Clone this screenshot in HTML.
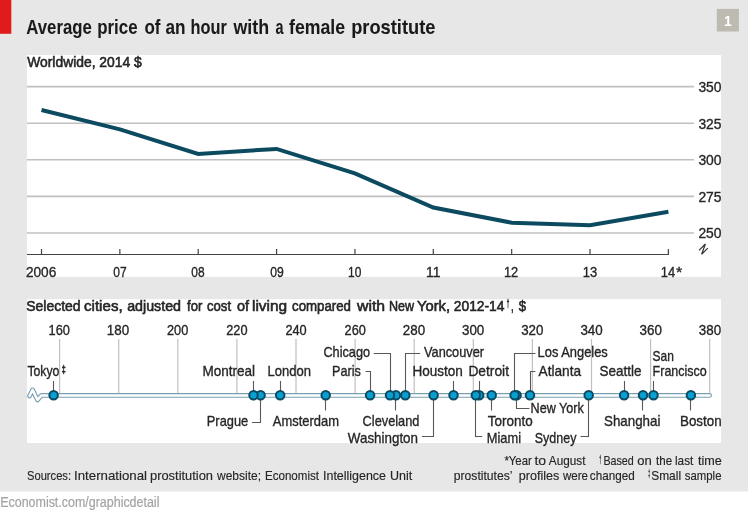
<!DOCTYPE html>
<html><head><meta charset="utf-8"><style>
html,body{margin:0;padding:0;background:#fff;}
body{width:750px;height:515px;overflow:hidden;}
svg{display:block;font-family:"Liberation Sans", sans-serif;will-change:transform;}
</style></head><body>
<svg width="750" height="515" viewBox="0 0 750 515">
<rect x="0" y="0" width="748" height="491.5" fill="#e7e7e7"/>
<rect x="0" y="0" width="11.3" height="33.8" fill="#e11b1b"/>
<rect x="716.8" y="8.9" width="22.1" height="22.6" fill="#bdbab1"/>
<text x="727.9" y="25.5" font-size="14" text-anchor="middle" font-weight="bold" fill="#fff">1</text>
<rect x="27" y="55" width="694" height="221.8" fill="#fff"/>
<rect x="27" y="299.2" width="694" height="143.8" fill="#fff"/>
<line x1="27" y1="86.60" x2="694" y2="86.60" stroke="#c0c0c0" stroke-width="1.6"/>
<line x1="27" y1="123.20" x2="694" y2="123.20" stroke="#c0c0c0" stroke-width="1.6"/>
<line x1="27" y1="159.80" x2="694" y2="159.80" stroke="#c0c0c0" stroke-width="1.6"/>
<line x1="27" y1="196.40" x2="694" y2="196.40" stroke="#c0c0c0" stroke-width="1.6"/>
<line x1="27" y1="233.00" x2="694" y2="233.00" stroke="#c0c0c0" stroke-width="1.6"/>
<line x1="27" y1="254.5" x2="668.9" y2="254.5" stroke="#444444" stroke-width="1"/>
<line x1="41.50" y1="249" x2="41.50" y2="254.5" stroke="#444444" stroke-width="1.2"/>
<line x1="119.86" y1="249" x2="119.86" y2="254.5" stroke="#444444" stroke-width="1.2"/>
<line x1="198.22" y1="249" x2="198.22" y2="254.5" stroke="#444444" stroke-width="1.2"/>
<line x1="276.58" y1="249" x2="276.58" y2="254.5" stroke="#444444" stroke-width="1.2"/>
<line x1="354.94" y1="249" x2="354.94" y2="254.5" stroke="#444444" stroke-width="1.2"/>
<line x1="433.30" y1="249" x2="433.30" y2="254.5" stroke="#444444" stroke-width="1.2"/>
<line x1="511.66" y1="249" x2="511.66" y2="254.5" stroke="#444444" stroke-width="1.2"/>
<line x1="590.02" y1="249" x2="590.02" y2="254.5" stroke="#444444" stroke-width="1.2"/>
<line x1="668.38" y1="249" x2="668.38" y2="254.5" stroke="#444444" stroke-width="1.2"/>
<polyline points="41.5,110.0 119.9,129.4 198.2,154.0 276.6,148.9 354.9,173.3 433.3,207.5 511.7,222.7 590.0,225.2 668.4,211.7" fill="none" stroke="#0c4a60" stroke-width="4.0" stroke-linejoin="miter"/>
<path d="M699,250.4 L705.4,244 L701.6,254.2 L707.8,248.1" fill="none" stroke="#333" stroke-width="1.2"/>
<line x1="59.60" y1="339" x2="59.60" y2="393.5" stroke="#c0c0c0" stroke-width="1.2"/>
<line x1="118.70" y1="339" x2="118.70" y2="393.5" stroke="#c0c0c0" stroke-width="1.2"/>
<line x1="177.80" y1="339" x2="177.80" y2="393.5" stroke="#c0c0c0" stroke-width="1.2"/>
<line x1="236.90" y1="339" x2="236.90" y2="393.5" stroke="#c0c0c0" stroke-width="1.2"/>
<line x1="296.00" y1="339" x2="296.00" y2="393.5" stroke="#c0c0c0" stroke-width="1.2"/>
<line x1="355.10" y1="339" x2="355.10" y2="393.5" stroke="#c0c0c0" stroke-width="1.2"/>
<line x1="414.20" y1="339" x2="414.20" y2="393.5" stroke="#c0c0c0" stroke-width="1.2"/>
<line x1="473.30" y1="339" x2="473.30" y2="393.5" stroke="#c0c0c0" stroke-width="1.2"/>
<line x1="532.40" y1="339" x2="532.40" y2="393.5" stroke="#c0c0c0" stroke-width="1.2"/>
<line x1="591.50" y1="339" x2="591.50" y2="393.5" stroke="#c0c0c0" stroke-width="1.2"/>
<line x1="650.60" y1="339" x2="650.60" y2="393.5" stroke="#c0c0c0" stroke-width="1.2"/>
<line x1="709.70" y1="339" x2="709.70" y2="393.5" stroke="#c0c0c0" stroke-width="1.2"/>
<path d="M29.5,396.0 L32.6,389.9 L37.5,400.0 L41.4,395.4 L709.6,395.4" fill="none" stroke="#7a9fb2" stroke-width="4.8" stroke-linejoin="round" stroke-linecap="round"/>
<path d="M29.5,396.0 L32.6,389.9 L37.5,400.0 L41.4,395.4 L709.6,395.4" fill="none" stroke="#fff" stroke-width="2.5" stroke-linejoin="round" stroke-linecap="round"/>
<path d="M53.5,381 V395.3" fill="none" stroke="#595959" stroke-width="1.1"/>
<path d="M253.5,381 V395.3" fill="none" stroke="#595959" stroke-width="1.1"/>
<path d="M280.5,381 V395.3" fill="none" stroke="#595959" stroke-width="1.1"/>
<path d="M453.5,381 V395.3" fill="none" stroke="#595959" stroke-width="1.1"/>
<path d="M479.5,381 V395.3" fill="none" stroke="#595959" stroke-width="1.1"/>
<path d="M624.5,381 V395.3" fill="none" stroke="#595959" stroke-width="1.1"/>
<path d="M653.5,381 V395.3" fill="none" stroke="#595959" stroke-width="1.1"/>
<path d="M365.5,371.5 H370.5 V395.3" fill="none" stroke="#595959" stroke-width="1.1"/>
<path d="M373.7,353.5 H390.5 V395.3" fill="none" stroke="#595959" stroke-width="1.1"/>
<path d="M420.2,353.5 H405.5 V395.3" fill="none" stroke="#595959" stroke-width="1.1"/>
<path d="M535.4,353.5 H514.5 V395.3" fill="none" stroke="#595959" stroke-width="1.1"/>
<path d="M535.4,371.5 H530.5 V395.3" fill="none" stroke="#595959" stroke-width="1.1"/>
<path d="M325.5,395.3 V410.5" fill="none" stroke="#595959" stroke-width="1.1"/>
<path d="M395.5,395.3 V410.5" fill="none" stroke="#595959" stroke-width="1.1"/>
<path d="M491.5,395.3 V410.5" fill="none" stroke="#595959" stroke-width="1.1"/>
<path d="M642.5,395.3 V410.5" fill="none" stroke="#595959" stroke-width="1.1"/>
<path d="M690.5,395.3 V410.5" fill="none" stroke="#595959" stroke-width="1.1"/>
<path d="M260.5,395.3 V422.5 H252" fill="none" stroke="#595959" stroke-width="1.1"/>
<path d="M433.5,395.3 V436.5 H421.9" fill="none" stroke="#595959" stroke-width="1.1"/>
<path d="M475.5,395.3 V436.5 H482.2" fill="none" stroke="#595959" stroke-width="1.1"/>
<path d="M516.5,395.3 V408.5 H529.4" fill="none" stroke="#595959" stroke-width="1.1"/>
<path d="M588.5,395.3 V436.5 H580.5" fill="none" stroke="#595959" stroke-width="1.1"/>
<circle cx="690.9" cy="395.3" r="4.25" fill="#089fd1" stroke="#0b4a62" stroke-width="2.0"/>
<circle cx="653.5" cy="395.3" r="4.25" fill="#089fd1" stroke="#0b4a62" stroke-width="2.0"/>
<circle cx="643.0" cy="395.3" r="4.25" fill="#089fd1" stroke="#0b4a62" stroke-width="2.0"/>
<circle cx="624.1" cy="395.3" r="4.25" fill="#089fd1" stroke="#0b4a62" stroke-width="2.0"/>
<circle cx="588.7" cy="395.3" r="4.25" fill="#089fd1" stroke="#0b4a62" stroke-width="2.0"/>
<circle cx="530.0" cy="395.3" r="4.25" fill="#089fd1" stroke="#0b4a62" stroke-width="2.0"/>
<circle cx="516.6" cy="395.3" r="4.25" fill="#089fd1" stroke="#0b4a62" stroke-width="2.0"/>
<circle cx="514.6" cy="395.3" r="4.25" fill="#089fd1" stroke="#0b4a62" stroke-width="2.0"/>
<circle cx="491.7" cy="395.3" r="4.25" fill="#089fd1" stroke="#0b4a62" stroke-width="2.0"/>
<circle cx="479.2" cy="395.3" r="4.25" fill="#089fd1" stroke="#0b4a62" stroke-width="2.0"/>
<circle cx="475.8" cy="395.3" r="4.25" fill="#089fd1" stroke="#0b4a62" stroke-width="2.0"/>
<circle cx="453.5" cy="395.3" r="4.25" fill="#089fd1" stroke="#0b4a62" stroke-width="2.0"/>
<circle cx="433.6" cy="395.3" r="4.25" fill="#089fd1" stroke="#0b4a62" stroke-width="2.0"/>
<circle cx="405.3" cy="395.3" r="4.25" fill="#089fd1" stroke="#0b4a62" stroke-width="2.0"/>
<circle cx="395.9" cy="395.3" r="4.25" fill="#089fd1" stroke="#0b4a62" stroke-width="2.0"/>
<circle cx="390.0" cy="395.3" r="4.25" fill="#089fd1" stroke="#0b4a62" stroke-width="2.0"/>
<circle cx="370.1" cy="395.3" r="4.25" fill="#089fd1" stroke="#0b4a62" stroke-width="2.0"/>
<circle cx="325.7" cy="395.3" r="4.25" fill="#089fd1" stroke="#0b4a62" stroke-width="2.0"/>
<circle cx="280.2" cy="395.3" r="4.25" fill="#089fd1" stroke="#0b4a62" stroke-width="2.0"/>
<circle cx="260.6" cy="395.3" r="4.25" fill="#089fd1" stroke="#0b4a62" stroke-width="2.0"/>
<circle cx="253.5" cy="395.3" r="4.25" fill="#089fd1" stroke="#0b4a62" stroke-width="2.0"/>
<circle cx="53.6" cy="395.3" r="4.25" fill="#089fd1" stroke="#0b4a62" stroke-width="2.0"/>
<text x="26.30" y="33.60" font-size="19.3" textLength="65.53" lengthAdjust="spacingAndGlyphs" font-weight="bold" fill="#1a1a1a" stroke="#1a1a1a" stroke-width="0.05">Average</text>
<text x="97.20" y="33.60" font-size="19.3" textLength="40.35" lengthAdjust="spacingAndGlyphs" font-weight="bold" fill="#1a1a1a" stroke="#1a1a1a" stroke-width="0.05">price</text>
<text x="144.50" y="33.60" font-size="19.3" textLength="16.00" lengthAdjust="spacingAndGlyphs" font-weight="bold" fill="#1a1a1a" stroke="#1a1a1a" stroke-width="0.05">of</text>
<text x="165.50" y="33.60" font-size="19.3" textLength="20.06" lengthAdjust="spacingAndGlyphs" font-weight="bold" fill="#1a1a1a" stroke="#1a1a1a" stroke-width="0.05">an</text>
<text x="190.50" y="33.60" font-size="19.3" textLength="36.28" lengthAdjust="spacingAndGlyphs" font-weight="bold" fill="#1a1a1a" stroke="#1a1a1a" stroke-width="0.05">hour</text>
<text x="233.50" y="33.60" font-size="19.3" textLength="35.64" lengthAdjust="spacingAndGlyphs" font-weight="bold" fill="#1a1a1a" stroke="#1a1a1a" stroke-width="0.05">with</text>
<text x="275.50" y="33.60" font-size="19.3" textLength="8.00" lengthAdjust="spacingAndGlyphs" font-weight="bold" fill="#1a1a1a" stroke="#1a1a1a" stroke-width="0.05">a</text>
<text x="289.00" y="33.60" font-size="19.3" textLength="56.00" lengthAdjust="spacingAndGlyphs" font-weight="bold" fill="#1a1a1a" stroke="#1a1a1a" stroke-width="0.05">female</text>
<text x="351.20" y="33.60" font-size="19.3" textLength="84.24" lengthAdjust="spacingAndGlyphs" font-weight="bold" fill="#1a1a1a" stroke="#1a1a1a" stroke-width="0.05">prostitute</text>
<text x="27.20" y="67.20" font-size="15.5" textLength="114.61" lengthAdjust="spacingAndGlyphs" fill="#262626" stroke="#262626" stroke-width="0.6">Worldwide, 2014 $</text>
<text x="26.20" y="311.00" font-size="15.2" textLength="54.43" lengthAdjust="spacingAndGlyphs" fill="#262626" stroke="#262626" stroke-width="0.6">Selected</text>
<text x="84.00" y="311.00" font-size="15.2" textLength="38.65" lengthAdjust="spacingAndGlyphs" fill="#262626" stroke="#262626" stroke-width="0.6">cities,</text>
<text x="127.20" y="311.00" font-size="15.2" textLength="53.81" lengthAdjust="spacingAndGlyphs" fill="#262626" stroke="#262626" stroke-width="0.6">adjusted</text>
<text x="187.00" y="311.00" font-size="15.2" textLength="15.24" lengthAdjust="spacingAndGlyphs" fill="#262626" stroke="#262626" stroke-width="0.6">for</text>
<text x="207.00" y="311.00" font-size="15.2" textLength="24.04" lengthAdjust="spacingAndGlyphs" fill="#262626" stroke="#262626" stroke-width="0.6">cost</text>
<text x="237.00" y="311.00" font-size="15.2" textLength="12.07" lengthAdjust="spacingAndGlyphs" fill="#262626" stroke="#262626" stroke-width="0.6">of</text>
<text x="252.00" y="311.00" font-size="15.2" textLength="35.15" lengthAdjust="spacingAndGlyphs" fill="#262626" stroke="#262626" stroke-width="0.6">living</text>
<text x="292.00" y="311.00" font-size="15.2" textLength="59.00" lengthAdjust="spacingAndGlyphs" fill="#262626" stroke="#262626" stroke-width="0.6">compared</text>
<text x="357.00" y="311.00" font-size="15.2" textLength="28.07" lengthAdjust="spacingAndGlyphs" fill="#262626" stroke="#262626" stroke-width="0.6">with</text>
<text x="389.00" y="311.00" font-size="15.2" textLength="25.10" lengthAdjust="spacingAndGlyphs" fill="#262626" stroke="#262626" stroke-width="0.6">New</text>
<text x="417.00" y="311.00" font-size="15.2" textLength="33.06" lengthAdjust="spacingAndGlyphs" fill="#262626" stroke="#262626" stroke-width="0.6">York,</text>
<text x="453.80" y="311.00" font-size="15.2" textLength="50.67" lengthAdjust="spacingAndGlyphs" fill="#262626" stroke="#262626" stroke-width="0.6">2012-14</text>
<text x="506.70" y="307.30" font-size="11.2" textLength="2.53" lengthAdjust="spacingAndGlyphs" fill="#262626" stroke="#262626" stroke-width="0.6">†</text>
<text x="510.90" y="311.00" font-size="15.2" textLength="2.65" lengthAdjust="spacingAndGlyphs" fill="#262626" stroke="#262626" stroke-width="0.6">,</text>
<text x="518.80" y="311.00" font-size="15.2" textLength="7.30" lengthAdjust="spacingAndGlyphs" fill="#262626" stroke="#262626" stroke-width="0.6">$</text>
<text x="698.40" y="91.90" font-size="14.6" textLength="23.12" lengthAdjust="spacingAndGlyphs" fill="#262626" stroke="#262626" stroke-width="0.35">350</text>
<text x="698.40" y="128.50" font-size="14.6" textLength="23.08" lengthAdjust="spacingAndGlyphs" fill="#262626" stroke="#262626" stroke-width="0.35">325</text>
<text x="698.40" y="165.10" font-size="14.6" textLength="23.12" lengthAdjust="spacingAndGlyphs" fill="#262626" stroke="#262626" stroke-width="0.35">300</text>
<text x="698.40" y="201.70" font-size="14.6" textLength="23.08" lengthAdjust="spacingAndGlyphs" fill="#262626" stroke="#262626" stroke-width="0.35">275</text>
<text x="698.40" y="238.30" font-size="14.6" textLength="23.12" lengthAdjust="spacingAndGlyphs" fill="#262626" stroke="#262626" stroke-width="0.35">250</text>
<text x="25.90" y="277.00" font-size="14.6" textLength="30.41" lengthAdjust="spacingAndGlyphs" fill="#262626" stroke="#262626" stroke-width="0.35">2006</text>
<text x="113.32" y="277.00" font-size="14.6" textLength="13.36" lengthAdjust="spacingAndGlyphs" fill="#262626" stroke="#262626" stroke-width="0.35">07</text>
<text x="191.24" y="277.00" font-size="14.6" textLength="13.33" lengthAdjust="spacingAndGlyphs" fill="#262626" stroke="#262626" stroke-width="0.35">08</text>
<text x="270.16" y="277.00" font-size="14.6" textLength="13.53" lengthAdjust="spacingAndGlyphs" fill="#262626" stroke="#262626" stroke-width="0.35">09</text>
<text x="348.08" y="277.00" font-size="14.6" textLength="13.28" lengthAdjust="spacingAndGlyphs" fill="#262626" stroke="#262626" stroke-width="0.35">10</text>
<text x="426.00" y="277.00" font-size="14.6" textLength="14.41" lengthAdjust="spacingAndGlyphs" fill="#262626" stroke="#262626" stroke-width="0.35">11</text>
<text x="503.92" y="277.00" font-size="14.6" textLength="14.33" lengthAdjust="spacingAndGlyphs" fill="#262626" stroke="#262626" stroke-width="0.35">12</text>
<text x="582.84" y="277.00" font-size="14.6" textLength="14.42" lengthAdjust="spacingAndGlyphs" fill="#262626" stroke="#262626" stroke-width="0.35">13</text>
<text x="660.76" y="277.00" font-size="14.6" textLength="14.39" lengthAdjust="spacingAndGlyphs" fill="#262626" stroke="#262626" stroke-width="0.35">14</text>
<text x="676.00" y="277.00" font-size="14.6" textLength="6.27" lengthAdjust="spacingAndGlyphs" fill="#262626" stroke="#262626" stroke-width="0.35">*</text>
<text x="48.60" y="335.00" font-size="14.6" textLength="21.37" lengthAdjust="spacingAndGlyphs" fill="#262626" stroke="#262626" stroke-width="0.35">160</text>
<text x="106.80" y="335.00" font-size="14.6" textLength="22.36" lengthAdjust="spacingAndGlyphs" fill="#262626" stroke="#262626" stroke-width="0.35">180</text>
<text x="167.00" y="335.00" font-size="14.6" textLength="21.28" lengthAdjust="spacingAndGlyphs" fill="#262626" stroke="#262626" stroke-width="0.35">200</text>
<text x="226.20" y="335.00" font-size="14.6" textLength="21.29" lengthAdjust="spacingAndGlyphs" fill="#262626" stroke="#262626" stroke-width="0.35">220</text>
<text x="285.40" y="335.00" font-size="14.6" textLength="21.28" lengthAdjust="spacingAndGlyphs" fill="#262626" stroke="#262626" stroke-width="0.35">240</text>
<text x="344.60" y="335.00" font-size="14.6" textLength="21.27" lengthAdjust="spacingAndGlyphs" fill="#262626" stroke="#262626" stroke-width="0.35">260</text>
<text x="402.80" y="335.00" font-size="14.6" textLength="22.28" lengthAdjust="spacingAndGlyphs" fill="#262626" stroke="#262626" stroke-width="0.35">280</text>
<text x="462.00" y="335.00" font-size="14.6" textLength="22.27" lengthAdjust="spacingAndGlyphs" fill="#262626" stroke="#262626" stroke-width="0.35">300</text>
<text x="521.20" y="335.00" font-size="14.6" textLength="22.28" lengthAdjust="spacingAndGlyphs" fill="#262626" stroke="#262626" stroke-width="0.35">320</text>
<text x="580.40" y="335.00" font-size="14.6" textLength="22.29" lengthAdjust="spacingAndGlyphs" fill="#262626" stroke="#262626" stroke-width="0.35">340</text>
<text x="639.60" y="335.00" font-size="14.6" textLength="22.35" lengthAdjust="spacingAndGlyphs" fill="#262626" stroke="#262626" stroke-width="0.35">360</text>
<text x="698.80" y="335.00" font-size="14.6" textLength="22.31" lengthAdjust="spacingAndGlyphs" fill="#262626" stroke="#262626" stroke-width="0.35">380</text>
<text x="323.40" y="356.90" font-size="15.0" textLength="46.66" lengthAdjust="spacingAndGlyphs" fill="#262626" stroke="#262626" stroke-width="0.35">Chicago</text>
<text x="424.00" y="356.90" font-size="15.0" textLength="60.03" lengthAdjust="spacingAndGlyphs" fill="#262626" stroke="#262626" stroke-width="0.35">Vancouver</text>
<text x="537.60" y="356.90" font-size="15.0" textLength="70.21" lengthAdjust="spacingAndGlyphs" fill="#262626" stroke="#262626" stroke-width="0.35">Los Angeles</text>
<text x="652.60" y="360.80" font-size="15.0" textLength="21.26" lengthAdjust="spacingAndGlyphs" fill="#262626" stroke="#262626" stroke-width="0.35">San</text>
<text x="27.40" y="375.70" font-size="15.0" textLength="32.06" lengthAdjust="spacingAndGlyphs" fill="#262626" stroke="#262626" stroke-width="0.35">Tokyo</text>
<text x="202.40" y="375.80" font-size="15.0" textLength="52.62" lengthAdjust="spacingAndGlyphs" fill="#262626" stroke="#262626" stroke-width="0.35">Montreal</text>
<text x="267.60" y="375.80" font-size="15.0" textLength="43.47" lengthAdjust="spacingAndGlyphs" fill="#262626" stroke="#262626" stroke-width="0.35">London</text>
<text x="332.00" y="375.70" font-size="15.0" textLength="28.86" lengthAdjust="spacingAndGlyphs" fill="#262626" stroke="#262626" stroke-width="0.35">Paris</text>
<text x="412.40" y="375.60" font-size="15.0" textLength="50.48" lengthAdjust="spacingAndGlyphs" fill="#262626" stroke="#262626" stroke-width="0.35">Houston</text>
<text x="468.40" y="375.60" font-size="15.0" textLength="40.62" lengthAdjust="spacingAndGlyphs" fill="#262626" stroke="#262626" stroke-width="0.35">Detroit</text>
<text x="538.60" y="375.60" font-size="15.0" textLength="42.46" lengthAdjust="spacingAndGlyphs" fill="#262626" stroke="#262626" stroke-width="0.35">Atlanta</text>
<text x="599.40" y="375.80" font-size="15.0" textLength="42.03" lengthAdjust="spacingAndGlyphs" fill="#262626" stroke="#262626" stroke-width="0.35">Seattle</text>
<text x="652.60" y="375.60" font-size="15.0" textLength="54.25" lengthAdjust="spacingAndGlyphs" fill="#262626" stroke="#262626" stroke-width="0.35">Francisco</text>
<text x="530.60" y="412.80" font-size="15.0" textLength="53.26" lengthAdjust="spacingAndGlyphs" fill="#262626" stroke="#262626" stroke-width="0.35">New York</text>
<text x="206.80" y="426.30" font-size="15.0" textLength="41.45" lengthAdjust="spacingAndGlyphs" fill="#262626" stroke="#262626" stroke-width="0.35">Prague</text>
<text x="272.80" y="426.30" font-size="15.0" textLength="66.23" lengthAdjust="spacingAndGlyphs" fill="#262626" stroke="#262626" stroke-width="0.35">Amsterdam</text>
<text x="362.60" y="426.00" font-size="15.0" textLength="56.82" lengthAdjust="spacingAndGlyphs" fill="#262626" stroke="#262626" stroke-width="0.35">Cleveland</text>
<text x="487.80" y="426.00" font-size="15.0" textLength="44.88" lengthAdjust="spacingAndGlyphs" fill="#262626" stroke="#262626" stroke-width="0.35">Toronto</text>
<text x="604.00" y="426.30" font-size="15.0" textLength="56.45" lengthAdjust="spacingAndGlyphs" fill="#262626" stroke="#262626" stroke-width="0.35">Shanghai</text>
<text x="680.00" y="426.30" font-size="15.0" textLength="41.66" lengthAdjust="spacingAndGlyphs" fill="#262626" stroke="#262626" stroke-width="0.35">Boston</text>
<text x="347.80" y="442.80" font-size="15.0" textLength="70.21" lengthAdjust="spacingAndGlyphs" fill="#262626" stroke="#262626" stroke-width="0.35">Washington</text>
<text x="486.80" y="442.80" font-size="15.0" textLength="34.24" lengthAdjust="spacingAndGlyphs" fill="#262626" stroke="#262626" stroke-width="0.35">Miami</text>
<text x="534.80" y="442.80" font-size="15.0" textLength="41.63" lengthAdjust="spacingAndGlyphs" fill="#262626" stroke="#262626" stroke-width="0.35">Sydney</text>
<text x="61.80" y="373.10" font-size="11.2" textLength="3.90" lengthAdjust="spacingAndGlyphs" fill="#262626" stroke="#262626" stroke-width="0.6">‡</text>
<text x="504.40" y="465.30" font-size="12.4" textLength="27.36" lengthAdjust="spacingAndGlyphs" fill="#262626" stroke="#262626" stroke-width="0.15">*Year</text>
<text x="534.40" y="465.30" font-size="12.4" textLength="11.71" lengthAdjust="spacingAndGlyphs" fill="#262626" stroke="#262626" stroke-width="0.15">to</text>
<text x="548.80" y="465.30" font-size="12.4" textLength="36.63" lengthAdjust="spacingAndGlyphs" fill="#262626" stroke="#262626" stroke-width="0.15">August</text>
<text x="599.40" y="462.90" font-size="10.2" textLength="1.47" lengthAdjust="spacingAndGlyphs" fill="#262626" stroke="#262626" stroke-width="0.6">†</text>
<text x="603.40" y="465.30" font-size="12.4" textLength="30.42" lengthAdjust="spacingAndGlyphs" fill="#262626" stroke="#262626" stroke-width="0.15">Based</text>
<text x="637.20" y="465.30" font-size="12.4" textLength="14.52" lengthAdjust="spacingAndGlyphs" fill="#262626" stroke="#262626" stroke-width="0.15">on</text>
<text x="656.00" y="465.30" font-size="12.4" textLength="16.08" lengthAdjust="spacingAndGlyphs" fill="#262626" stroke="#262626" stroke-width="0.15">the</text>
<text x="675.00" y="465.30" font-size="12.4" textLength="18.32" lengthAdjust="spacingAndGlyphs" fill="#262626" stroke="#262626" stroke-width="0.15">last</text>
<text x="698.00" y="465.30" font-size="12.4" textLength="23.84" lengthAdjust="spacingAndGlyphs" fill="#262626" stroke="#262626" stroke-width="0.15">time</text>
<text x="453.80" y="480.00" font-size="12.4" textLength="58.65" lengthAdjust="spacingAndGlyphs" fill="#262626" stroke="#262626" stroke-width="0.15">prostitutes’</text>
<text x="518.80" y="480.00" font-size="12.4" textLength="40.44" lengthAdjust="spacingAndGlyphs" fill="#262626" stroke="#262626" stroke-width="0.15">profiles</text>
<text x="563.00" y="480.00" font-size="12.4" textLength="25.05" lengthAdjust="spacingAndGlyphs" fill="#262626" stroke="#262626" stroke-width="0.15">were</text>
<text x="589.80" y="480.00" font-size="12.4" textLength="44.85" lengthAdjust="spacingAndGlyphs" fill="#262626" stroke="#262626" stroke-width="0.15">changed</text>
<text x="648.50" y="476.60" font-size="10.2" textLength="1.20" lengthAdjust="spacingAndGlyphs" fill="#262626" stroke="#262626" stroke-width="0.6">‡</text>
<text x="651.20" y="480.00" font-size="12.4" textLength="29.86" lengthAdjust="spacingAndGlyphs" fill="#262626" stroke="#262626" stroke-width="0.15">Small</text>
<text x="684.80" y="480.00" font-size="12.4" textLength="36.69" lengthAdjust="spacingAndGlyphs" fill="#262626" stroke="#262626" stroke-width="0.15">sample</text>
<text x="27.00" y="480.30" font-size="13.4" textLength="44.03" lengthAdjust="spacingAndGlyphs" fill="#262626" stroke="#262626" stroke-width="0.15">Sources:</text>
<text x="74.00" y="480.30" font-size="13.4" textLength="73.04" lengthAdjust="spacingAndGlyphs" fill="#262626" stroke="#262626" stroke-width="0.15">International</text>
<text x="150.00" y="480.30" font-size="13.4" textLength="63.02" lengthAdjust="spacingAndGlyphs" fill="#262626" stroke="#262626" stroke-width="0.15">prostitution</text>
<text x="217.00" y="480.30" font-size="13.4" textLength="44.02" lengthAdjust="spacingAndGlyphs" fill="#262626" stroke="#262626" stroke-width="0.15">website;</text>
<text x="265.00" y="480.30" font-size="13.4" textLength="54.02" lengthAdjust="spacingAndGlyphs" fill="#262626" stroke="#262626" stroke-width="0.15">Economist</text>
<text x="323.00" y="480.30" font-size="13.4" textLength="63.03" lengthAdjust="spacingAndGlyphs" fill="#262626" stroke="#262626" stroke-width="0.15">Intelligence</text>
<text x="390.00" y="480.30" font-size="13.4" textLength="22.24" lengthAdjust="spacingAndGlyphs" fill="#262626" stroke="#262626" stroke-width="0.15">Unit</text>
<text x="0.20" y="507.00" font-size="14.0" textLength="159.22" lengthAdjust="spacingAndGlyphs" fill="#a3a3a3" stroke="#a3a3a3" stroke-width="0.2">Economist.com/graphicdetail</text>
</svg>
</body></html>
